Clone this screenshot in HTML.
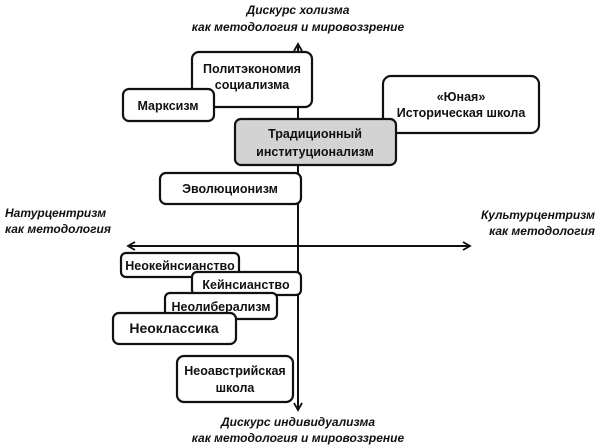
<!DOCTYPE html>
<html><head><meta charset="utf-8"><style>
body{margin:0;background:#fff}
svg{display:block}
text{font-family:"Liberation Sans",sans-serif;font-weight:bold;fill:#111}
.b{fill:#fff;stroke:#111;stroke-width:2.2}
.t{font-size:12.5px}
.l{font-size:12px;font-style:italic}
</style></head><body>
<svg width="600" height="446" viewBox="0 0 600 446">
<defs><marker id="a" markerWidth="10" markerHeight="10" refX="8" refY="5" orient="auto" markerUnits="userSpaceOnUse"><path d="M1,1 L8,5 L1,9" fill="none" stroke="#111" stroke-width="1.8"/></marker></defs>
<line x1="298" y1="408" x2="298" y2="44" stroke="#111" stroke-width="2" marker-end="url(#a)"/>
<line x1="298" y1="60" x2="298" y2="410" stroke="#111" stroke-width="2" marker-end="url(#a)"/>
<line x1="300" y1="246" x2="128" y2="246" stroke="#111" stroke-width="2" marker-end="url(#a)"/>
<line x1="296" y1="246" x2="470" y2="246" stroke="#111" stroke-width="2" marker-end="url(#a)"/>

<g text-anchor="middle">
<text class="l" x="298" y="14">Дискурс холизма</text>
<text class="l" x="298" y="31">как методология и мировоззрение</text>
<text class="l" x="298" y="426">Дискурс индивидуализма</text>
<text class="l" x="298" y="442">как методология и мировоззрение</text>
</g>
<text class="l" x="5" y="217">Натурцентризм</text>
<text class="l" x="5" y="233">как методология</text>
<text class="l" x="595" y="219" text-anchor="end">Культурцентризм</text>
<text class="l" x="595" y="235" text-anchor="end">как методология</text>

<rect class="b" x="192" y="52" width="120" height="55" rx="7"/>
<text class="t" x="252" y="73" text-anchor="middle">Политэкономия</text>
<text class="t" x="252" y="89" text-anchor="middle">социализма</text>
<rect class="b" x="123" y="89" width="91" height="32" rx="6"/>
<text class="t" x="168" y="110" text-anchor="middle">Марксизм</text>
<rect class="b" x="383" y="76" width="156" height="57" rx="8"/>
<text class="t" x="461" y="101" text-anchor="middle">«Юная»</text>
<text class="t" x="461" y="117" text-anchor="middle">Историческая школа</text>
<rect x="235" y="119" width="161" height="46" rx="6" fill="#d3d3d3" stroke="#111" stroke-width="2.2"/>
<text class="t" x="315" y="138" text-anchor="middle">Традиционный</text>
<text class="t" x="315" y="156" text-anchor="middle">институционализм</text>
<rect class="b" x="160" y="173" width="141" height="31" rx="6"/>
<text class="t" x="230" y="193" text-anchor="middle">Эволюционизм</text>

<rect class="b" x="121" y="253" width="118" height="24" rx="5"/>
<text class="t" x="180" y="270" text-anchor="middle">Неокейнсианство</text>
<rect class="b" x="192" y="272" width="109" height="23" rx="5"/>
<text class="t" x="246" y="289" text-anchor="middle">Кейнсианство</text>
<rect class="b" x="165" y="293" width="112" height="26" rx="5"/>
<text class="t" x="221" y="311" text-anchor="middle">Неолиберализм</text>
<rect class="b" x="113" y="313" width="123" height="31" rx="6"/>
<text x="174" y="333" text-anchor="middle" style="font-size:14px">Неоклассика</text>
<rect class="b" x="177" y="356" width="116" height="46" rx="7"/>
<text class="t" x="235" y="375" text-anchor="middle">Неоавстрийская</text>
<text class="t" x="235" y="392" text-anchor="middle">школа</text>
</svg>
</body></html>
